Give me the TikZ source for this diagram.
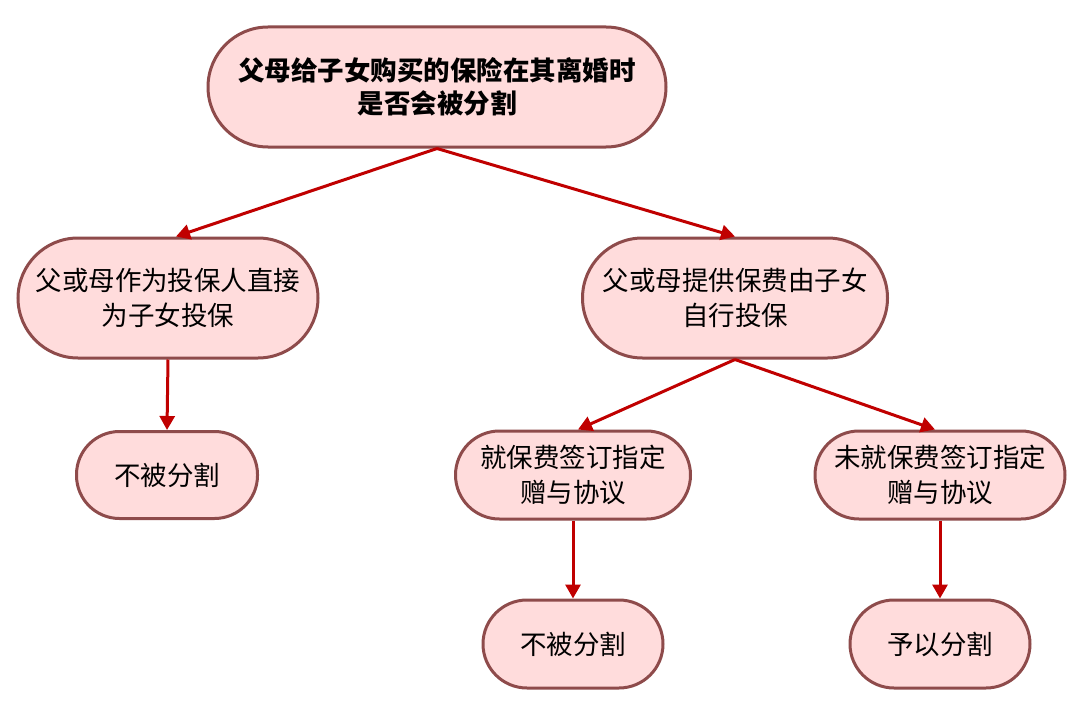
\documentclass[tikz,border=0pt]{standalone}
\usepackage{fontspec}
\setmainfont{Noto Sans CJK SC}
\usetikzlibrary{arrows.meta}
\definecolor{boxfill}{HTML}{FFDCDC}
\definecolor{boxline}{HTML}{8E4B4B}
\definecolor{arrowred}{HTML}{C00000}
\tikzset{
  pill/.style={draw=boxline, fill=boxfill, line width=3pt, align=center, inner sep=0pt,
    font=\fontsize{26.5}{35}\selectfont},
  rootpill/.style={pill, font=\fontsize{26.5}{33}\selectfont\bfseries},
  link/.style={draw=arrowred, line width=3pt, -{Triangle[length=14pt,width=15pt]}}
}
\begin{document}
\begin{tikzpicture}[x=1pt,y=-1pt]
\useasboundingbox (0,0) rectangle (1080,725);
\node[rootpill, minimum width=458pt, minimum height=120pt, rounded corners=60pt] (root) at (437,87) {父母给子女购买的保险在其离婚时\\是否会被分割};
\node[pill, minimum width=300pt, minimum height=120pt, rounded corners=60pt] (l1) at (168,298) {父或母作为投保人直接\\为子女投保};
\node[pill, minimum width=305pt, minimum height=120pt, rounded corners=60pt] (r1) at (735,298) {父或母提供保费由子女\\自行投保};
\node[pill, minimum width=181pt, minimum height=87pt, rounded corners=43pt] (l2) at (167,475) {不被分割};
\node[pill, minimum width=235pt, minimum height=88pt, rounded corners=44pt] (r2a) at (573,475) {就保费签订指定\\赠与协议};
\node[pill, minimum width=250pt, minimum height=88pt, rounded corners=44pt] (r2b) at (940,475) {未就保费签订指定\\赠与协议};
\node[pill, minimum width=180pt, minimum height=88pt, rounded corners=44pt] (r3a) at (573,644) {不被分割};
\node[pill, minimum width=180pt, minimum height=88pt, rounded corners=44pt] (r3b) at (940,644) {予以分割};
\path[link] (root.south) -- ([xshift=8pt]l1.north);
\path[link] (root.south) -- (r1.north);
\path[link] (l1.south) -- (l2.north);
\path[link] (r1.south) -- ([xshift=5pt]r2a.north);
\path[link] (r1.south) -- ([xshift=-5pt]r2b.north);
\path[link] (r2a.south) -- (r3a.north);
\path[link] (r2b.south) -- (r3b.north);
\end{tikzpicture}
\end{document}
